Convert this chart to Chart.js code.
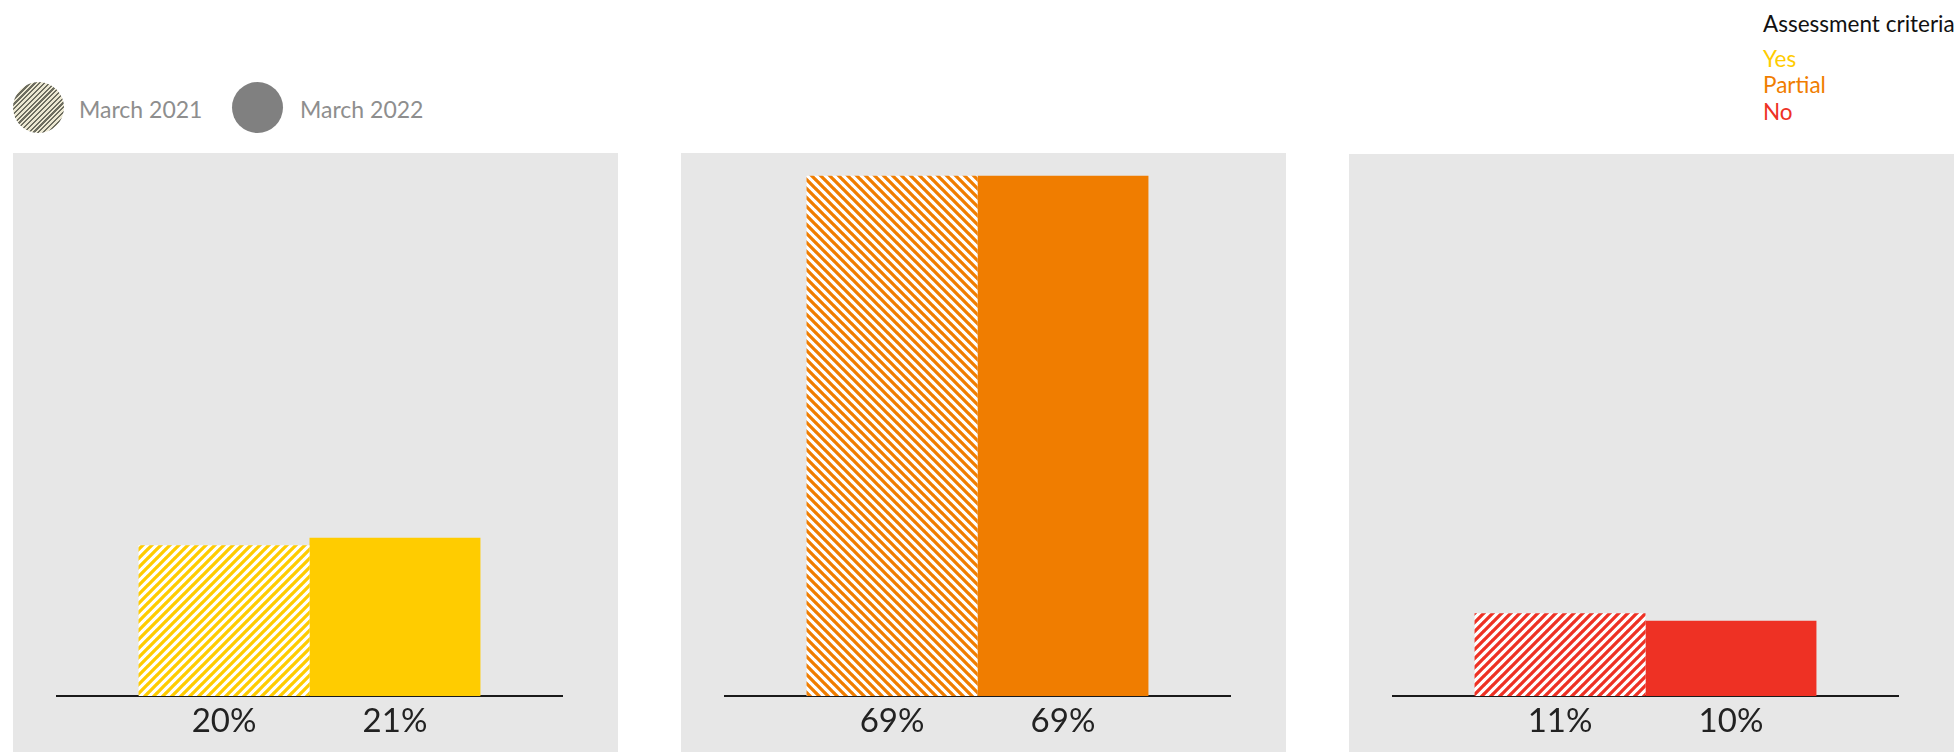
<!DOCTYPE html>
<html>
<head>
<meta charset="utf-8">
<script src="https://cdn.jsdelivr.net/npm/chart.js@4/dist/chart.umd.min.js"></script>
<style>
  body { margin: 0; background: #fff; width: 1954px; height: 752px; overflow: hidden; position: relative;
         font-family: Lato, "DejaVu Sans Condensed", sans-serif; }
  .panel { position: absolute; top: 153px; width: 605px; height: 599px; background: #e7e7e7; }
  .dot { position: absolute; top: 82px; width: 51px; height: 51px; border-radius: 50%; }
  .period { position: absolute; top: 95px; font-size: 23px; color: #8e8e8e; }
  #crit { position: absolute; left: 1763px; top: 11px; font-size: 22.5px; line-height: 26.5px; white-space: nowrap; }
</style>
</head>
<body>
<div class="dot" style="left:13px;background:repeating-linear-gradient(135deg,#ece8d2 0 1.8px,#6d6d60 1.8px 3.4px);"></div>
<div class="period" id="p0" style="left:79px"></div>
<div class="dot" style="left:232px;background:#808080;"></div>
<div class="period" id="p1" style="left:300px"></div>
<div id="crit"></div>

<div class="panel" style="left:13px"><canvas id="c0"></canvas></div>
<div class="panel" style="left:681px"><canvas id="c1"></canvas></div>
<div class="panel" style="left:1349px;top:154px;height:598px"><canvas id="c2"></canvas></div>

<script>
// data
const periods = ['March 2021', 'March 2022'];
const criteria = ['Yes', 'Partial', 'No'];
const march2021 = [20, 69, 11];
const march2022 = [21, 69, 10];
const criteriaColors = ['#FFCC00', '#F07D00', '#EE3124'];

// hatch fill for the older period
function makeHatch(color, flip) {
  let s = 9;
  let c = document.createElement('canvas');
  c.width = s; c.height = s;
  let g = c.getContext('2d');
  g.fillStyle = '#fff';
  g.fillRect(0, 0, s, s);
  g.strokeStyle = color;
  g.lineWidth = 3.3;
  if (flip) { g.translate(s, 0); g.scale(-1, 1); }
  g.beginPath();
  for (let k = -1; k <= 1; k++) {
    g.moveTo(k * s - 1, s + 1);
    g.lineTo(k * s + s + 1, -1);
  }
  g.stroke();
  return g.createPattern(c, 'repeat');
}

// value labels under each bar
const valueLabels = {
  id: 'valueLabels',
  afterDatasetsDraw(chart) {
    let ctx = chart.ctx;
    let y0 = chart.scales.y.getPixelForValue(0);
    ctx.save();
    ctx.font = '33px Lato, "DejaVu Sans Condensed", sans-serif';
    ctx.fillStyle = '#222';
    ctx.textAlign = 'center';
    ctx.textBaseline = 'middle';
    chart.data.datasets.forEach((ds, i) => {
      chart.getDatasetMeta(i).data.forEach((bar, j) => {
        ctx.fillText(ds.data[j] + '%', bar.x, y0 + 25);
      });
    });
    ctx.restore();
  }
};

function drawPanel(i) {
  let canvas = document.getElementById('c' + i);
  new Chart(canvas, {
    type: 'bar',
    data: {
      labels: [criteria[i]],
      datasets: [{
        label: periods[0],
        data: [march2021[i]],
        backgroundColor: makeHatch(criteriaColors[i], i == 1)
      }, {
        label: periods[1],
        data: [march2022[i]],
        backgroundColor: criteriaColors[i]
      }]
    },
    options: {
      responsive: true,
      maintainAspectRatio: false,
      animation: false,
      categoryPercentage: 0.677,
      barPercentage: 1.0,
      layout: { padding: { left: 44, right: 56, top: 0, bottom: 48 } },
      plugins: { legend: { display: false }, tooltip: { enabled: false } },
      scales: {
        x: {
          grid: { display: false },
          border: { display: true, color: '#1a1a1a', width: 2 },
          ticks: { display: false }
        },
        y: { display: false, min: 0, max: 72 }
      }
    },
    plugins: [valueLabels]
  });
}

document.getElementById('p0').textContent = periods[0];
document.getElementById('p1').textContent = periods[1];
let crit = '<div style="color:#111">Assessment criteria</div><div style="height:8px"></div>';
criteria.forEach((name, i) => {
  crit += '<div style="color:' + criteriaColors[i] + '">' + name + '</div>';
});
document.getElementById('crit').innerHTML = crit;

for (let i = 0; i < 3; i++) drawPanel(i);
</script>
</body>
</html>
